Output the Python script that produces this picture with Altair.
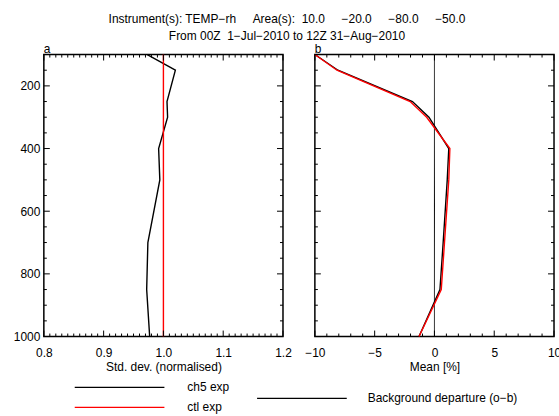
import altair as alt
import pandas as pd

# ---------------- data ----------------
levels = [100, 150, 250, 300, 400, 500, 700, 850, 1000]
std_ch5 = [0.973, 1.020, 1.006, 1.007, 0.992, 0.994, 0.974, 0.972, 0.977]
std_ctl = [1.0, 1.0, 1.0, 1.0, 1.0, 1.0, 1.0, 1.0, 1.0]
mean_ch5 = [-10.0, -8.07, -1.84, -0.46, 1.20, 1.07, 0.73, 0.46, -1.29]
mean_ctl = [-10.0, -8.15, -2.03, -0.65, 1.29, 1.20, 0.84, 0.57, -1.29]
exp_names = ["ch5 exp", "ctl exp"]
exp_colors = ["#000000", "#ff0000"]
bg_label = "Background departure (o\u2212b)"
zero_line = [0.0]

std_labels = [0.8, 0.9, 1.0, 1.1, 1.2]
std_ticks = [round(0.80 + 0.01 * i, 2) for i in range(41)]
mean_labels = [-10, -5, 0, 5, 10]
mean_ticks = list(range(-10, 11))
p_labels = [200, 400, 600, 800, 1000]
p_ticks = list(range(100, 1001, 50))

title_lines = [
    "Instrument(s): TEMP\u2212rh\u00a0\u00a0\u00a0\u00a0\u00a0Area(s):\u00a0\u00a010.0\u00a0\u00a0\u00a0\u00a0\u00a0\u221220.0\u00a0\u00a0\u00a0\u00a0\u00a0\u221280.0\u00a0\u00a0\u00a0\u00a0\u00a0\u221250.0",
    "From 00Z\u00a0\u00a01\u2212Jul\u22122010 to 12Z 31\u2212Aug\u22122010",
]

FONT = "Liberation Sans"
W, H = 240, 283

p_scale = alt.Scale(domain=[100, 1000], reverse=True, nice=False, zero=False)
std_scale = alt.Scale(domain=[0.8, 1.2], nice=False, zero=False)
mean_scale = alt.Scale(domain=[-10, 10], nice=False, zero=False)
exp_scale = alt.Scale(domain=exp_names, range=exp_colors)


def tick_layers(vals, majors, enc, scale, big=6, small=3):
    df = pd.DataFrame({"v": vals, "major": [v in majors for v in vals]})
    out = []
    for is_major, ln in [(True, big), (False, small)]:
        sub = df[df["major"] == is_major]
        base = alt.Chart(sub).mark_rule(color="black", strokeWidth=1)
        if enc == "x":
            pos = alt.X("v:Q", scale=scale)
            out.append(base.encode(x=pos, y=alt.value(H), y2=alt.value(H - ln)))
            out.append(base.encode(x=pos, y=alt.value(0), y2=alt.value(ln)))
        else:
            pos = alt.Y("v:Q", scale=scale)
            out.append(base.encode(y=pos, x=alt.value(0), x2=alt.value(ln)))
            out.append(base.encode(y=pos, x=alt.value(W), x2=alt.value(W - ln)))
    return out


std_df = pd.DataFrame({
    "level": levels * 2,
    "value": std_ch5 + std_ctl,
    "exp": ["ch5 exp"] * len(levels) + ["ctl exp"] * len(levels),
})
mean_df = pd.DataFrame({
    "level": levels * 2,
    "value": mean_ch5 + mean_ctl,
    "exp": ["ch5 exp"] * len(levels) + ["ctl exp"] * len(levels),
})

left_lines = alt.Chart(std_df).mark_line(strokeWidth=1.4).encode(
    x=alt.X("value:Q", scale=std_scale,
            axis=alt.Axis(values=std_labels, format=".1f", grid=False,
                          title="Std. dev. (normalised)", domain=False, ticks=False,
                          labelPadding=11, labelFlush=False, titlePadding=3)),
    y=alt.Y("level:Q", scale=p_scale,
            axis=alt.Axis(values=p_labels, format="d", title=None, domain=False,
                          grid=False, ticks=False, labelPadding=4)),
    stroke=alt.Stroke("exp:N", scale=exp_scale,
                      legend=alt.Legend(orient="none", legendX=30, legendY=328,
                                        title=None, symbolType="stroke",
                                        symbolSize=8100, symbolStrokeWidth=1.2,
                                        clipHeight=12, labelOffset=22, rowPadding=8,
                                        labelFontSize=12, labelFont=FONT,
                                        labelColor="black")),
    order=alt.Order("level:Q"),
)

left = alt.layer(
    left_lines,
    *tick_layers(std_ticks, std_labels, "x", std_scale),
    *tick_layers(p_ticks, p_labels, "y", p_scale),
).properties(width=W, height=H,
             title=alt.TitleParams("a", anchor="start", frame="group", fontSize=12,
                                   fontWeight="normal", font=FONT, offset=-4))

zero_df = pd.DataFrame({"v": zero_line, "k": [bg_label]})
zero_rule = alt.Chart(zero_df).mark_rule(color="black", strokeWidth=1).encode(
    x=alt.X("v:Q", scale=mean_scale),
    strokeDash=alt.StrokeDash("k:N", scale=alt.Scale(domain=[bg_label], range=[[1, 0]]),
                              legend=alt.Legend(orient="none", legendX=213, legendY=339,
                                                title=None, symbolType="stroke",
                                                symbolSize=8100, symbolStrokeWidth=1.2,
                                                symbolStrokeColor="black",
                                                clipHeight=12, labelOffset=20,
                                                labelFontSize=12, labelFont=FONT,
                                                labelColor="black")),
)

right_lines = alt.Chart(mean_df).mark_line(strokeWidth=1.4).encode(
    x=alt.X("value:Q", scale=mean_scale,
            axis=alt.Axis(values=mean_labels, format="d", title="Mean [%]",
                          grid=False, domain=False, ticks=False, labelPadding=11,
                          labelFlush=False, titlePadding=3)),
    y=alt.Y("level:Q", scale=p_scale, axis=None),
    stroke=alt.Stroke("exp:N", scale=exp_scale, legend=None),
    order=alt.Order("level:Q"),
)

right = alt.layer(
    zero_rule,
    right_lines,
    *tick_layers(mean_ticks, mean_labels, "x", mean_scale),
    *tick_layers(p_ticks, p_labels, "y", p_scale),
).properties(width=W, height=H,
             title=alt.TitleParams("b", anchor="start", frame="group", fontSize=12,
                                   fontWeight="normal", font=FONT, offset=-4))

chart = alt.hconcat(
    left, right, spacing=32, bounds="flush",
    title=alt.TitleParams(title_lines, anchor="middle", fontSize=12, font=FONT,
                          fontWeight="normal", lineHeight=17, offset=-1, color="black"),
    padding={"left": 12, "top": 12, "right": -3, "bottom": 0},
    background="white",
).configure_view(
    stroke="black", strokeWidth=1.5
).configure_axis(
    labelFont=FONT, labelFontSize=12, labelColor="black", grid=False,
    titleFont=FONT, titleFontSize=12, titleFontWeight="normal", titleColor="black",
)

chart.save("out.html", embed_options={"renderer": "svg", "actions": False})
